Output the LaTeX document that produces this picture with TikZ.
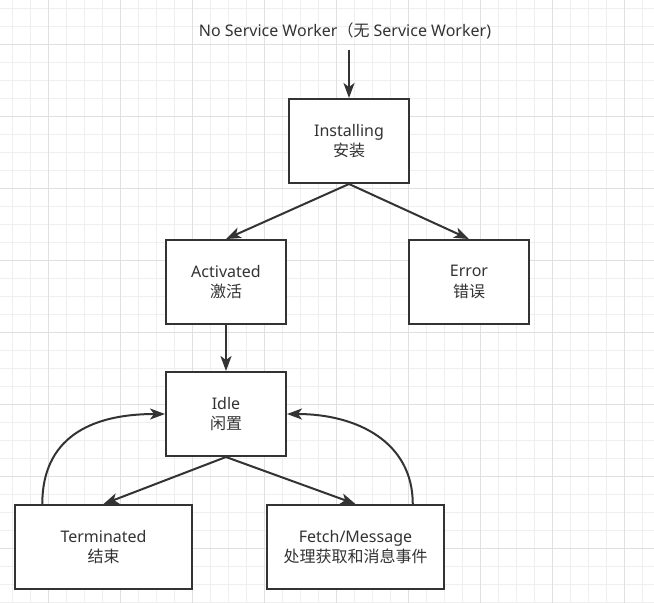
\documentclass[tikz,border=0pt]{standalone}
\usepackage{fontspec}
\setmainfont{Noto Sans}
\newfontfamily\cjk{Noto Sans CJK SC}
\usetikzlibrary{arrows.meta,calc}
\definecolor{ink}{HTML}{333333}
\definecolor{gridminor}{HTML}{EFEFEF}
\definecolor{gridmajor}{HTML}{E0E0E0}
\tikzset{
  state/.style={draw=ink, line width=2pt, fill=white, minimum width=120pt, minimum height=84pt,
    inner sep=0pt, align=center, text=ink, font=\fontsize{16}{20.5}\selectfont,
    execute at begin node={\rule{0pt}{18pt}}},
  widestate/.style={state, minimum width=177pt},
  arr/.style={draw=ink, line width=2pt, -{Stealth[length=15pt,width=11pt,inset=4pt]}},
  gminor/.style={gridminor, line width=0.8pt},
  gmajor/.style={gridmajor, line width=0.9pt}
}
\begin{document}
\begin{tikzpicture}[x=1pt,y=-1pt]
\useasboundingbox (0,0) rectangle (654,603);
\fill[white] (0,0) rectangle (654,603);
% grid
\foreach \k in {0,...,35} \draw[gminor] (12.7+18*\k,0) -- (12.7+18*\k,603);
\foreach \k in {0,...,33} \draw[gminor] (0,8.3+18*\k) -- (654,8.3+18*\k);
\foreach \k in {0,...,8} \draw[gmajor] (48.7+72*\k,0) -- (48.7+72*\k,603);
\foreach \k in {0,...,7} \draw[gmajor] (0,44.3+72*\k) -- (654,44.3+72*\k);

% title
\node[text=ink, font=\fontsize{16}{20}\selectfont, inner sep=0pt] (title) at (345,31)
  {No Service Worker{\cjk （无} Service Worker)};
\coordinate (top) at (349,50);

% states
\node[state] (inst) at (349,141) {Installing\\{\cjk 安装}};
\node[state] (act) at (226,282) {Activated\\{\cjk 激活}};
\node[state] (err) at (469,282) {Error\\{\cjk 错误}};
\node[state] (idle) at (226,414) {Idle\\{\cjk 闲置}};
\node[widestate] (term) at (103.5,547) {Terminated\\{\cjk 结束}};
\node[widestate] (fetch) at (355.5,547) {Fetch/Message\\{\cjk 处理获取和消息事件}};

% connectors
\draw[arr] (top) -- (inst.north);
\draw[arr] (inst.south) -- (act.north);
\draw[arr] (inst.south) -- (err.north);
\draw[arr] (act.south) -- (idle.north);
\draw[arr] (idle.south) -- (term.north);
\draw[arr] (idle.south) -- (fetch.north);
\coordinate (ts) at ($(term.north west)!0.158!(term.north east)$);
\coordinate (fs) at ($(fetch.north west)!0.82!(fetch.north east)$);
\draw[arr] (ts) .. controls ($(ts)+(0,-65)$) and ($(idle.west)+(-76,0)$) .. (idle.west);
\draw[arr] (fs) .. controls ($(fs)+(0,-62)$) and ($(idle.east)+(70,0)$) .. (idle.east);
\end{tikzpicture}
\end{document}
